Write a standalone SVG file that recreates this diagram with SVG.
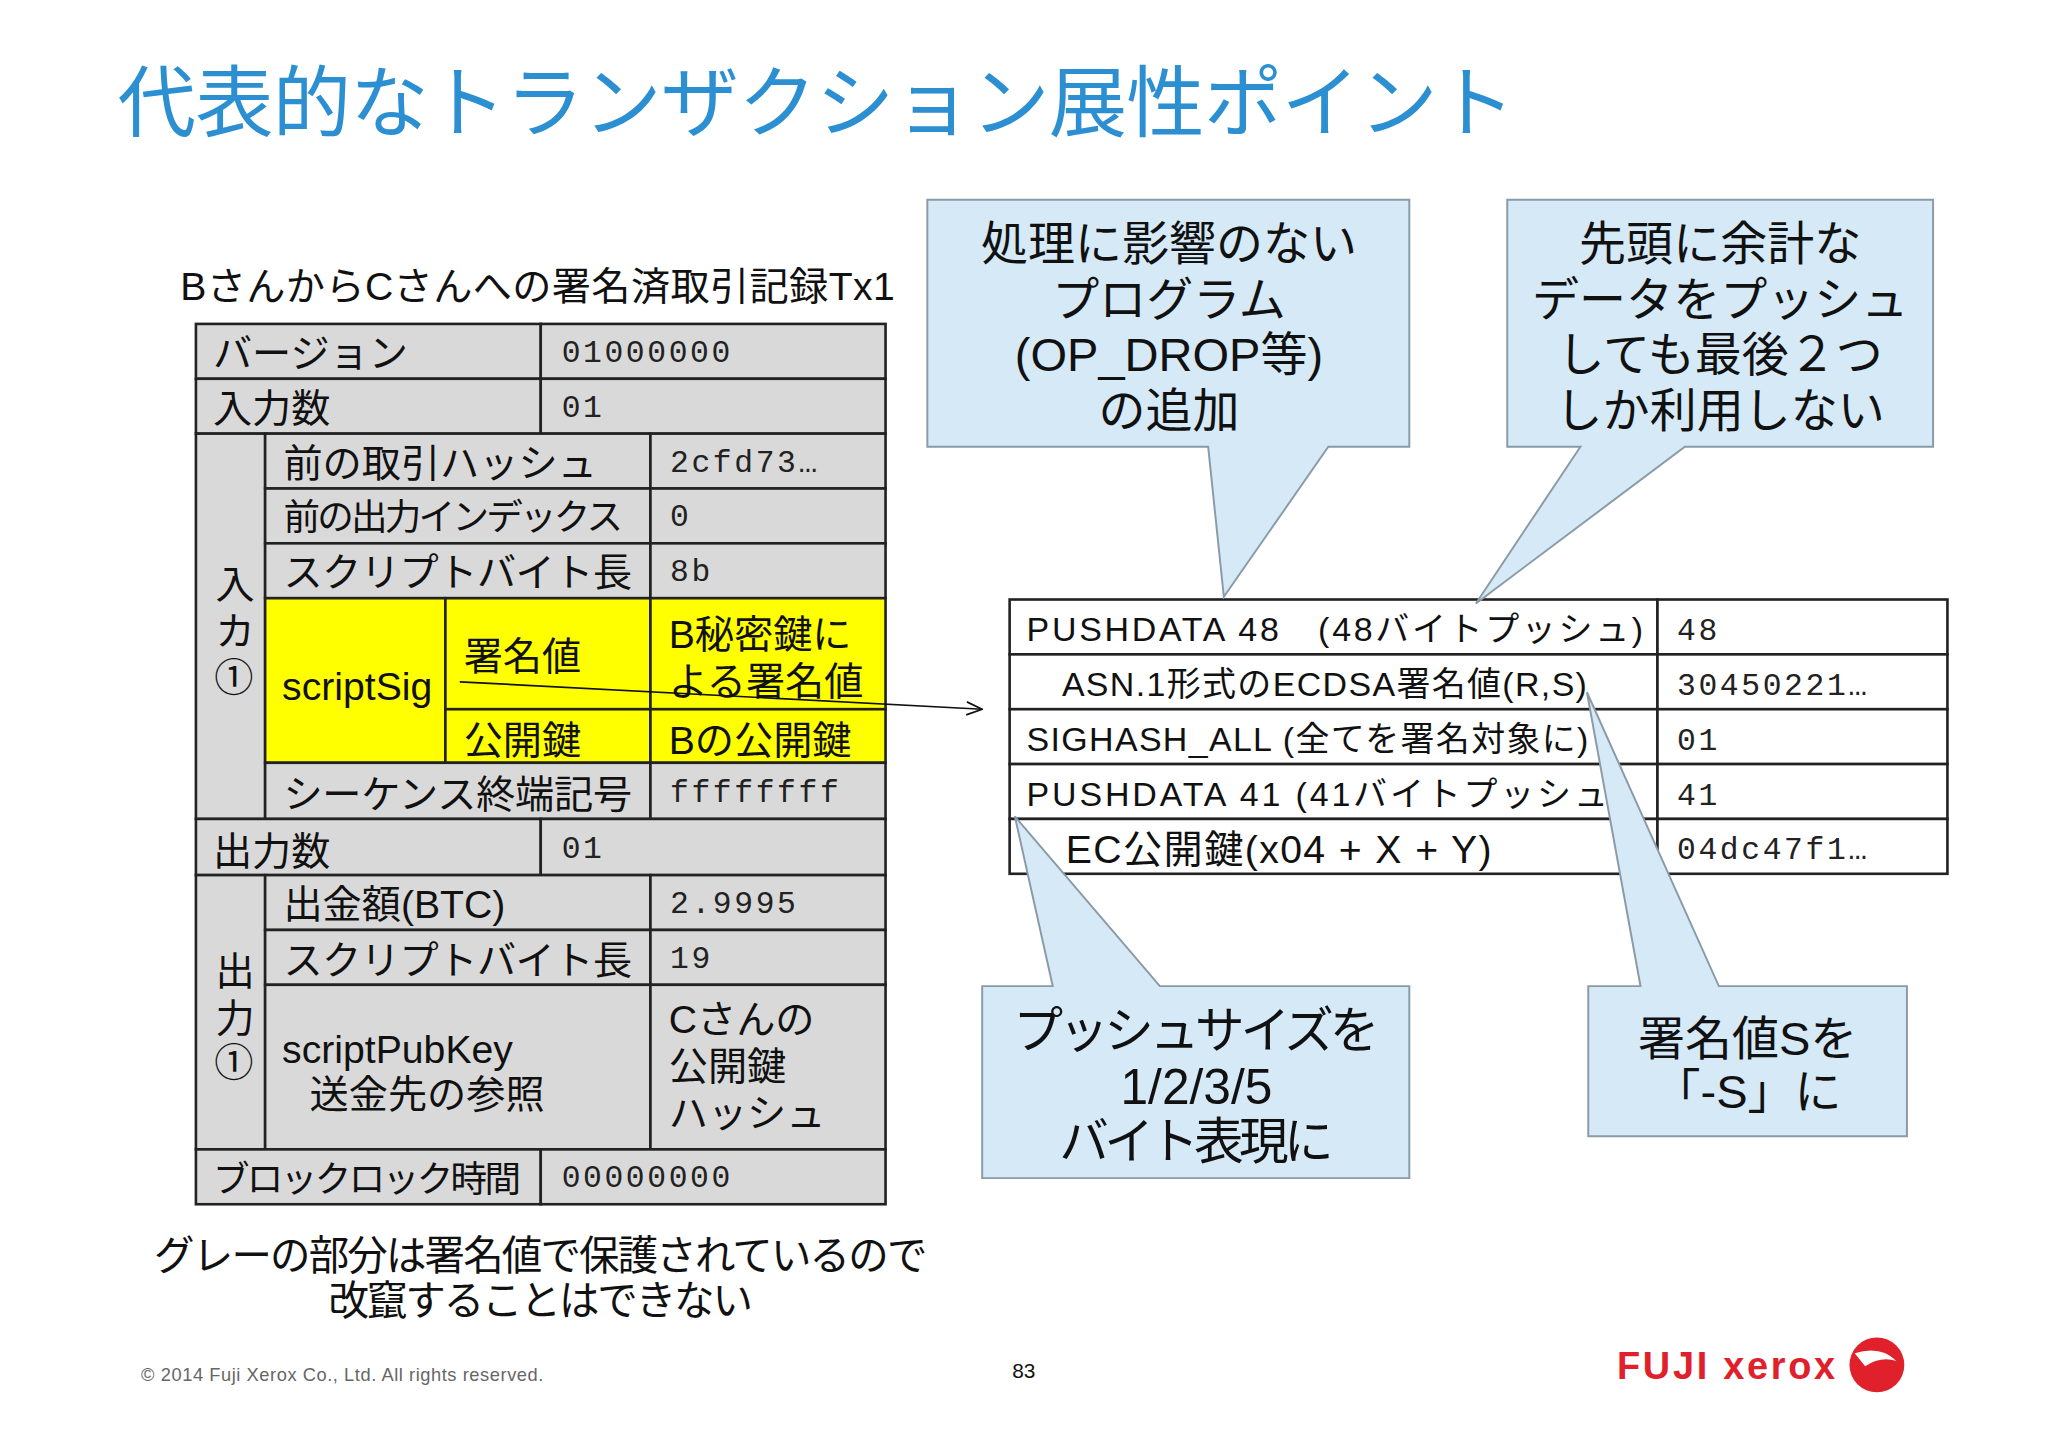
<svg xmlns="http://www.w3.org/2000/svg" width="2048" height="1447" viewBox="0 0 2048 1447">
<defs>
<style>
.j{font-family:"Liberation Sans","Noto Sans CJK JP",sans-serif;fill:#111}
.m{font-family:"Liberation Mono","DejaVu Sans Mono",monospace;fill:#222;font-size:24px;letter-spacing:2px}
.g{fill:#d9d9d9;stroke:#222;stroke-width:2}
.y{fill:#ffff00;stroke:#222;stroke-width:2}
.w{fill:#fff;stroke:#222;stroke-width:2}
.c{fill:#d5e9f7;stroke:#8a9aa6;stroke-width:1.5}
.l30{font-size:30px}
.r27{font-size:26px}
.t36{font-size:36px;text-anchor:middle}
</style>
<marker id="ar" markerWidth="14" markerHeight="12" refX="13" refY="6" orient="auto" markerUnits="userSpaceOnUse"><path d="M1,1 L13,6 L1,11" fill="none" stroke="#111" stroke-width="1.3"/></marker>
</defs>
<rect width="2048" height="1447" fill="#fff"/>
<g transform="scale(1.30612)">
<text x="90" y="100" class="j" style="fill:#2b8fd2;font-size:60px" textLength="1070">代表的なトランザクション展性ポイント</text>
<text x="138" y="230" class="j" style="font-size:30px" textLength="547">BさんからCさんへの署名済取引記録Tx1</text>

<g id="txtable">
<rect class="g" x="150" y="248" width="264" height="42"/><rect class="g" x="414" y="248" width="264" height="42"/>
<rect class="g" x="150" y="290" width="264" height="42"/><rect class="g" x="414" y="290" width="264" height="42"/>
<rect class="g" x="150" y="332" width="53" height="295"/>
<rect class="g" x="203" y="332" width="295" height="42"/><rect class="g" x="498" y="332" width="180" height="42"/>
<rect class="g" x="203" y="374" width="295" height="42"/><rect class="g" x="498" y="374" width="180" height="42"/>
<rect class="g" x="203" y="416" width="295" height="42"/><rect class="g" x="498" y="416" width="180" height="42"/>
<rect class="y" x="203" y="458" width="138" height="126"/>
<rect class="y" x="341" y="458" width="157" height="85"/><rect class="y" x="498" y="458" width="180" height="85"/>
<rect class="y" x="341" y="543" width="157" height="41"/><rect class="y" x="498" y="543" width="180" height="41"/>
<rect class="g" x="203" y="584" width="295" height="43"/><rect class="g" x="498" y="584" width="180" height="43"/>
<rect class="g" x="150" y="627" width="264" height="43"/><rect class="g" x="414" y="627" width="264" height="43"/>
<rect class="g" x="150" y="670" width="53" height="210"/>
<rect class="g" x="203" y="670" width="295" height="42"/><rect class="g" x="498" y="670" width="180" height="42"/>
<rect class="g" x="203" y="712" width="295" height="42"/><rect class="g" x="498" y="712" width="180" height="42"/>
<rect class="g" x="203" y="754" width="295" height="126"/><rect class="g" x="498" y="754" width="180" height="126"/>
<rect class="g" x="150" y="880" width="264" height="42"/><rect class="g" x="414" y="880" width="264" height="42"/>

<text class="j l30" x="163" y="281">バージョン</text><text class="m" x="430" y="277">01000000</text>
<text class="j l30" x="163" y="323">入力数</text><text class="m" x="430" y="319">01</text>
<text class="j l30" x="165" y="458">入</text><text class="j l30" x="165" y="494">カ</text><text class="j l30" x="164" y="529">①</text>
<text class="j l30" x="217" y="365">前の取引ハッシュ</text><text class="m" x="513" y="361">2cfd73…</text>
<text class="j" style="font-size:28px" x="217" y="406" textLength="260">前の出力インデックス</text><text class="m" x="513" y="403">0</text>
<text class="j l30" x="217" y="449" textLength="267">スクリプトバイト長</text><text class="m" x="513" y="445">8b</text>
<text class="j l30" x="216" y="536">scriptSig</text>
<text class="j l30" x="355" y="513">署名値</text>
<text class="j l30" x="512" y="496">B秘密鍵に</text><text class="j l30" x="512" y="532">よる署名値</text>
<text class="j l30" x="355" y="577">公開鍵</text><text class="j l30" x="512" y="577">Bの公開鍵</text>
<text class="j l30" x="217" y="619" textLength="267">シーケンス終端記号</text><text class="m" x="513" y="614">ffffffff</text>
<text class="j l30" x="163" y="662">出力数</text><text class="m" x="430" y="657">01</text>
<text class="j l30" x="165" y="754">出</text><text class="j l30" x="165" y="790">力</text><text class="j l30" x="164" y="824">①</text>
<text class="j l30" x="217" y="703">出金額(BTC)</text><text class="m" x="513" y="699">2.9995</text>
<text class="j l30" x="217" y="746" textLength="267">スクリプトバイト長</text><text class="m" x="513" y="741">19</text>
<text class="j l30" x="216" y="814">scriptPubKey</text><text class="j l30" x="237" y="848">送金先の参照</text>
<text class="j l30" x="512" y="791">Cさんの</text><text class="j l30" x="512" y="827">公開鍵</text><text class="j l30" x="512" y="863">ハッシュ</text>
<text class="j" style="font-size:28px" x="163" y="913" textLength="236">ブロックロック時間</text><text class="m" x="430" y="909">00000000</text>
</g>

<g id="script">
<rect class="w" x="773" y="459" width="496" height="42"/><rect class="w" x="1269" y="459" width="222" height="42"/>
<rect class="w" x="773" y="501" width="496" height="42"/><rect class="w" x="1269" y="501" width="222" height="42"/>
<rect class="w" x="773" y="543" width="496" height="42"/><rect class="w" x="1269" y="543" width="222" height="42"/>
<rect class="w" x="773" y="585" width="496" height="42"/><rect class="w" x="1269" y="585" width="222" height="42"/>
<rect class="w" x="773" y="627" width="496" height="42"/><rect class="w" x="1269" y="627" width="222" height="42"/>
<text class="j r27" x="786" y="491" textLength="472">PUSHDATA 48　(48バイトプッシュ)</text><text class="m" x="1284" y="490">48</text>
<text class="j r27" x="813" y="533" textLength="402">ASN.1形式のECDSA署名値(R,S)</text><text class="m" x="1284" y="532">30450221…</text>
<text class="j r27" x="786" y="575" textLength="430">SIGHASH_ALL (全てを署名対象に)</text><text class="m" x="1284" y="574">01</text>
<text class="j r27" x="786" y="617" textLength="445">PUSHDATA 41 (41バイトプッシュ</text><text class="m" x="1284" y="616">41</text>
<text class="j" style="font-size:30px" x="816" y="661" textLength="326">EC公開鍵(x04 + X + Y)</text><text class="m" x="1284" y="658">04dc47f1…</text>
</g>

<g id="connectors">
<line x1="352" y1="522" x2="752" y2="543" stroke="#111" stroke-width="1.3" marker-end="url(#ar)"/>
</g>

<g id="callout1">
<path class="c" d="M710,153 H1079 V342 H1017 L937,457 L925,342 H710 Z"/>
<text class="j t36" x="895" y="199">処理に影響のない</text>
<text class="j t36" x="895" y="242">プログラム</text>
<text class="j t36" x="895" y="284">(OP_DROP等)</text>
<text class="j t36" x="895" y="327">の追加</text>
</g>
<g id="callout2">
<path class="c" d="M1154,153 H1480 V342 H1290 L1130,462 L1210,342 H1154 Z"/>
<text class="j t36" x="1317" y="199">先頭に余計な</text>
<text class="j t36" x="1317" y="242">データをプッシュ</text>
<text class="j t36" x="1317" y="284">しても最後２つ</text>
<text class="j t36" x="1317" y="327">しか利用しない</text>
</g>
<g id="callout3">
<path class="c" d="M752,755 H806 L777,625 L888,755 H1079 V902 H752 Z"/>
<text class="j" style="font-size:38px;text-anchor:middle" x="916" y="802" textLength="280">プッシュサイズを</text>
<text class="j" style="font-size:38px;text-anchor:middle" x="916" y="845">1/2/3/5</text>
<text class="j" style="font-size:38px;text-anchor:middle" x="916" y="887" textLength="210">バイト表現に</text>
</g>
<g id="callout4">
<path class="c" d="M1216,755 H1256 L1215,530 L1316,755 H1460 V870 H1216 Z"/>
<text class="j" style="font-size:36px;text-anchor:middle" x="1338" y="808">署名値Sを</text>
<text class="j" style="font-size:36px;text-anchor:middle" x="1338" y="848">「-S」に</text>
</g>

<text class="j" style="font-size:31px;text-anchor:middle" x="414" y="972" textLength="592">グレーの部分は署名値で保護されているので</text>
<text class="j" style="font-size:31px;text-anchor:middle" x="414" y="1007" textLength="325">改竄することはできない</text>
<text class="j" style="font-size:14px;fill:#666" x="108" y="1057" textLength="308">© 2014 Fuji Xerox Co., Ltd. All rights reserved.</text>
<text class="j" style="font-size:16px" x="775" y="1055">83</text>
<g id="logo">
<text x="1238" y="1056" textLength="167" style="font-family:'Liberation Sans',sans-serif;font-weight:bold;font-size:29px;fill:#e0202a">FUJI xerox</text>
<circle cx="1437" cy="1045" r="21" fill="#e0202a"/>
<path d="M1420,1036 Q1440,1030 1452,1042 Q1440,1038 1428,1046 Z" fill="#fff"/>
</g>
</g>
</svg>
